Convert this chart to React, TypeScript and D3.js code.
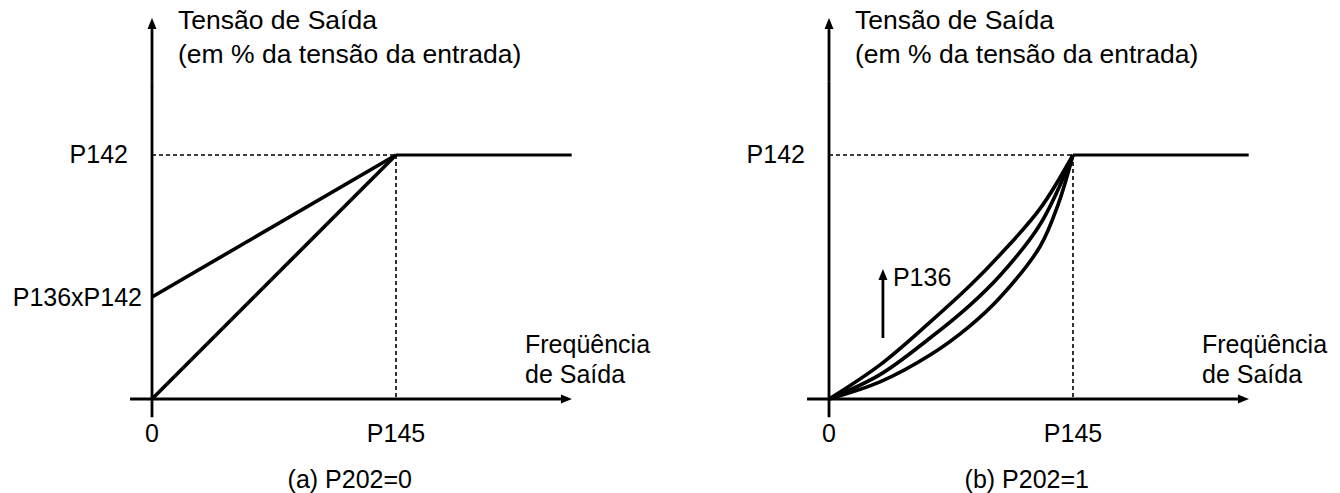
import React from "react";
import * as d3 from "d3";

// ---- data ----
const captions = ["(a) P202=0", "(b) P202=1"];
const yTitle = ["Tensão de Saída", "(em % da tensão da entrada)"];
const xTitle = ["Freqüência", "de Saída"];
const yTickLabels = ["P142"];
const xTickLabels = ["0", "P145"];
const boostLabel = "P136xP142";
const arrowLabel = "P136";

// panel (a): straight lines (x in units of P145, y in units of P142)
const boostValue = 0.418;
const lineBoost: [number, number][] = [[0, boostValue], [1, 1]];
const lineNoBoost: [number, number][] = [[0, 0], [1, 1]];
const flatLine: [number, number][] = [[1, 1], [1.72, 1]];

// panel (b): quadratic-type curves
const curveTop: [number, number][] = [
  [0, 0], [0.209, 0.14], [0.414, 0.315], [0.578, 0.465], [0.7, 0.59], [0.865, 0.78], [1, 1],
];
const curveMid: [number, number][] = [
  [0, 0], [0.209, 0.1], [0.414, 0.25], [0.578, 0.385], [0.7, 0.505], [0.865, 0.715], [1, 1],
];
const curveBot: [number, number][] = [
  [0, 0], [0.209, 0.07], [0.414, 0.18], [0.578, 0.3], [0.7, 0.415], [0.865, 0.625], [0.94, 0.8], [1, 1],
];
const p136Arrow: [number, number][] = [[0.221, 0.25], [0.221, 0.533]];

const FONT = "'Liberation Sans', Arial, sans-serif";
const FS = 25;
const FS_TITLE = 26.5;

function Arrow({ x1, y1, x2, y2 }: { x1: number; y1: number; x2: number; y2: number }) {
  const ang = Math.atan2(y2 - y1, x2 - x1);
  const L = 11, W = 4.5;
  const bx = x2 - L * Math.cos(ang), by = y2 - L * Math.sin(ang);
  const px = -Math.sin(ang) * W, py = Math.cos(ang) * W;
  return (
    <g>
      <line x1={x1} y1={y1} x2={bx} y2={by} stroke="#000" strokeWidth={2.8} />
      <path d={`M${x2},${y2}L${bx + px},${by + py}L${bx - px},${by - py}Z`} fill="#000" />
    </g>
  );
}

function Panel({ dx, kind }: { dx: number; kind: "a" | "b" }) {
  const x = d3.scaleLinear().domain([0, 1]).range([152 + dx, 396 + dx]);
  const y = d3.scaleLinear().domain([0, 1]).range([399, 155]);
  const line = d3.line<[number, number]>().x((d) => x(d[0])).y((d) => y(d[1]));
  const curve = d3
    .line<[number, number]>()
    .x((d) => x(d[0]))
    .y((d) => y(d[1]))
    .curve(d3.curveCatmullRom.alpha(0.5));
  const x0 = x(0), y0 = y(0);
  return (
    <g fontFamily={FONT} fontSize={FS} fill="#000">
      {/* axes */}
      <line x1={x0} y1={y(-0.075)} x2={x0} y2={y(1.3)} stroke="#000" strokeWidth={2.8} />
      <Arrow x1={x0} y1={y(1.3)} x2={x0} y2={y(1.561)} />
      <Arrow x1={x(-0.09)} y1={y0} x2={x(1.721)} y2={y0} />
      {/* dotted guides */}
      <path d={line([[0, 1], [1, 1]])!} stroke="#000" strokeWidth={1.6} strokeDasharray="4,3" fill="none" />
      <path d={line([[1, 1], [1, 0]])!} stroke="#000" strokeWidth={1.6} strokeDasharray="4,3" fill="none" />
      {/* flat segment */}
      <path d={line(flatLine)!} stroke="#000" strokeWidth={3} fill="none" />
      {kind === "a" ? (
        <g>
          <path d={line(lineBoost)!} stroke="#000" strokeWidth={3.6} fill="none" />
          <path d={line(lineNoBoost)!} stroke="#000" strokeWidth={3.6} fill="none" />
          <text x={x0 - 10} y={y(boostValue) + 9} textAnchor="end">{boostLabel}</text>
        </g>
      ) : (
        <g>
          {[curveTop, curveMid, curveBot].map((c, i) => (
            <path key={i} d={curve(c)!} stroke="#000" strokeWidth={3.6} fill="none" strokeLinejoin="round" />
          ))}
          <Arrow x1={x(p136Arrow[0][0])} y1={y(p136Arrow[0][1])} x2={x(p136Arrow[1][0])} y2={y(p136Arrow[1][1])} />
          <text x={x(p136Arrow[1][0]) + 10} y={y(p136Arrow[1][1]) + 17}>{arrowLabel}</text>
        </g>
      )}
      {/* labels */}
      <text x={x0 + 26} y={29} fontSize={FS_TITLE}>{yTitle[0]}</text>
      <text x={x0 + 26} y={63} fontSize={FS_TITLE}>{yTitle[1]}</text>
      <text x={x0 - 24} y={y(1) + 8} textAnchor="end">{yTickLabels[0]}</text>
      <text x={x(0)} y={442} textAnchor="middle">{xTickLabels[0]}</text>
      <text x={x(1)} y={442} textAnchor="middle">{xTickLabels[1]}</text>
      <text x={x0 + 373} y={353}>{xTitle[0]}</text>
      <text x={x0 + 373} y={383}>{xTitle[1]}</text>
      <text x={x0 + 260} y={488} textAnchor="end">{captions[kind === "a" ? 0 : 1]}</text>
    </g>
  );
}

export default function App() {
  return (
    <svg width={1340} height={493} style={{ position: "absolute", left: 0, top: 0, background: "#fff" }}>
      <rect width={1340} height={493} fill="#fff" />
      <Panel dx={0} kind="a" />
      <Panel dx={677} kind="b" />
    </svg>
  );
}
